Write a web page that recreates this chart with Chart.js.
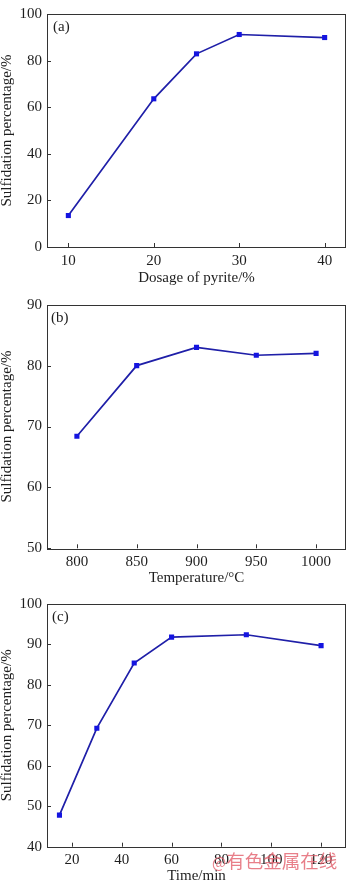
<!DOCTYPE html>
<html>
<head>
<meta charset="utf-8">
<script src="https://cdn.jsdelivr.net/npm/chart.js@4.4.1/dist/chart.umd.min.js"></script>
<style>
  html, body { margin: 0; padding: 0; background: #fff; width: 350px; height: 881px; overflow: hidden; }
  .wrap { position: absolute; left: 0; width: 350px; }
  canvas { display: block; }
  #wm { position: absolute; left: 212px; top: 851px; font-family: "Noto Sans CJK SC", sans-serif; font-size: 18.5px; color: rgba(226, 95, 108, 0.8); white-space: nowrap; line-height: 1; }
  #wm .at { font-size: 15px; }
</style>
</head>
<body>
<div class="wrap" style="top:0;height:290px"><canvas id="ca" width="350" height="290"></canvas></div>
<div class="wrap" style="top:290px;height:300px"><canvas id="cb" width="350" height="300"></canvas></div>
<div class="wrap" style="top:590px;height:300px"><canvas id="cc" width="350" height="300"></canvas></div>
<div id="wm"><span class="at">@</span>有色金属在线</div>
<script>
// ---- Data ----
const dosageX = [10, 20, 25, 30, 40];
const dosageY = [13.5, 63.6, 82.9, 91.2, 89.9];
const dosageXTicks = [10, 20, 30, 40];
const dosageYTicks = [0, 20, 40, 60, 80, 100];

const tempX = [800, 850, 900, 950, 1000];
const tempY = [68.4, 80.0, 83.0, 81.7, 82.0];
const tempXTicks = [800, 850, 900, 950, 1000];
const tempYTicks = [50, 60, 70, 80, 90];

const timeX = [15, 30, 45, 60, 90, 120];
const timeY = [47.8, 69.3, 85.4, 91.8, 92.4, 89.7];
const timeXTicks = [20, 40, 60, 80, 100, 120];
const timeYTicks = [40, 50, 60, 70, 80, 90, 100];

const yTitle = 'Sulfidation percentage/%';
const FONT = '"Liberation Serif", "Times New Roman", serif';
const INK = '#1e1e1e';

const framePlugin = {
  id: 'frame',
  afterDraw(chart, args, opts) {
    const {ctx, chartArea: a, scales} = chart;
    ctx.save();
    ctx.strokeStyle = '#333';
    ctx.lineWidth = 1;
    ctx.strokeRect(Math.round(a.left) + 0.5, Math.round(a.top) + 0.5,
                   Math.round(a.right - a.left) - 1, Math.round(a.bottom - a.top));
    const tl = 4;
    ctx.beginPath();
    scales.x.ticks.forEach(t => {
      const px = Math.round(scales.x.getPixelForValue(t.value)) + 0.5;
      ctx.moveTo(px, a.bottom);
      ctx.lineTo(px, a.bottom - tl);
    });
    scales.y.ticks.forEach(t => {
      const py = Math.round(scales.y.getPixelForValue(t.value)) + 0.5;
      ctx.moveTo(a.left, py);
      ctx.lineTo(a.left + tl, py);
    });
    ctx.stroke();
    ctx.fillStyle = INK;
    ctx.font = '15px ' + FONT;
    ctx.textAlign = 'left';
    ctx.textBaseline = 'middle';
    ctx.fillText(opts.label, a.left + opts.lx, a.top + opts.ly);
    ctx.restore();
  }
};

function makeChart(id, xs, ys, xTicks, yTicks, xMin, xMax, yMin, yMax, xTitle, cfg) {
  const H = document.getElementById(id).height;
  new Chart(document.getElementById(id), {
    type: 'scatter',
    data: {
      datasets: [{
        data: xs.map((x, i) => ({x: x, y: ys[i]})),
        showLine: true,
        borderColor: '#1f1fa8',
        borderWidth: 1.7,
        pointStyle: 'rect',
        pointRadius: 3.6,
        pointBackgroundColor: '#1414e0',
        pointBorderColor: '#1414e0',
        pointBorderWidth: 0,
        tension: 0
      }]
    },
    options: {
      responsive: false,
      animation: false,
      devicePixelRatio: 1,
      layout: { padding: { top: cfg.top, right: 1, left: 0, bottom: 0 } },
      plugins: {
        legend: { display: false },
        tooltip: { enabled: false },
        frame: { label: cfg.label, lx: cfg.lx, ly: 13 }
      },
      scales: {
        x: {
          type: 'linear',
          min: xMin, max: xMax,
          grid: { display: false, drawTicks: false },
          border: { display: false },
          afterBuildTicks: s => { s.ticks = xTicks.map(v => ({value: v})); },
          afterFit: s => { s.height = H - cfg.bottom; },
          ticks: { color: INK, font: { family: FONT, size: 15 }, padding: cfg.xpad, maxRotation: 0, autoSkip: false, callback: v => String(v) },
          title: { display: true, text: xTitle, color: INK, font: { family: FONT, size: 15 }, padding: { top: 0, bottom: cfg.tpad } }
        },
        y: {
          type: 'linear',
          min: yMin, max: yMax,
          grid: { display: false, drawTicks: false },
          border: { display: false },
          afterBuildTicks: s => { s.ticks = yTicks.map(v => ({value: v})); },
          afterFit: s => { s.width = 47; },
          ticks: { color: INK, font: { family: FONT, size: 15 }, padding: 5, autoSkip: false, callback: v => String(v) },
          title: { display: true, text: yTitle, color: INK, font: { family: FONT, size: 15, lineHeight: 1 }, padding: { top: 0, bottom: 0 } }
        }
      }
    },
    plugins: [framePlugin]
  });
}

makeChart('ca', dosageX, dosageY, dosageXTicks, dosageYTicks, 7.5, 42.5, 0, 100,
  'Dosage of pyrite/%', { top: 3, bottom: 247, xpad: 5, tpad: 3, label: '(a)', lx: 6 });
makeChart('cb', tempX, tempY, tempXTicks, tempYTicks, 775, 1025, 50, 90,
  'Temperature/°C', { top: 14.7, bottom: 258.3, xpad: 5, tpad: 3, label: '(b)', lx: 4 });
makeChart('cc', timeX, timeY, timeXTicks, timeYTicks, 10, 130, 40, 100,
  'Time/min', { top: 13.3, bottom: 256.7, xpad: 4, tpad: 5, label: '(c)', lx: 5 });
</script>
</body>
</html>
